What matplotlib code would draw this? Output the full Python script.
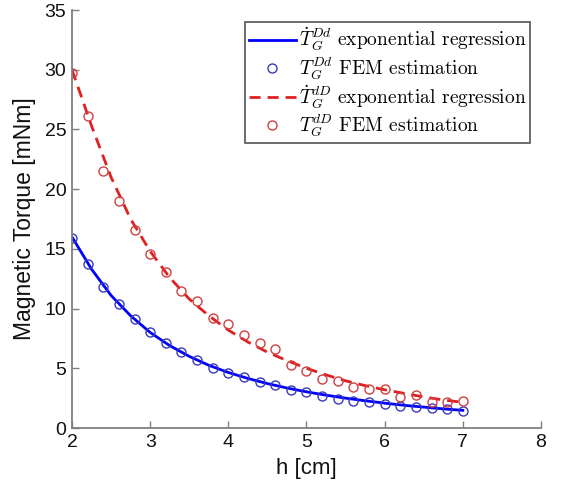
import matplotlib
matplotlib.use("Agg")
import matplotlib.pyplot as plt
from matplotlib.font_manager import FontProperties

# FEM sample positions
h_fem = [2.0, 2.2, 2.4, 2.6, 2.8, 3.0, 3.2, 3.4, 3.6, 3.8, 4.0, 4.2, 4.4,
         4.6, 4.8, 5.0, 5.2, 5.4, 5.6, 5.8, 6.0, 6.2, 6.4, 6.6, 6.8, 7.0]
T_Dd_fem = [15.9, 13.7, 11.8, 10.4, 9.1, 8.05, 7.1, 6.4, 5.7, 5.06, 4.6, 4.3, 3.83,
            3.6, 3.2, 3.0, 2.64, 2.44, 2.28, 2.2, 2.03, 1.81, 1.72, 1.67, 1.58, 1.44]
T_dD_fem = [29.7, 26.1, 21.5, 19.0, 16.6, 14.6, 13.1, 11.5, 10.6, 9.2, 8.7, 7.8, 7.1,
            6.6, 5.3, 4.8, 4.1, 3.9, 3.4, 3.3, 3.3, 2.6, 2.8, 2.2, 2.2, 2.3]

# regression curves
h_reg = [2.0, 2.25, 2.5, 2.75, 3.0, 3.25, 3.5, 3.75, 4.0, 4.25, 4.5, 4.75,
         5.0, 5.25, 5.5, 5.75, 6.0, 6.25, 6.5, 6.75, 7.0]
T_Dd_reg = [16.0, 13.3, 11.1, 9.4, 8.0, 6.9, 6.0, 5.25, 4.65, 4.15, 3.72, 3.35,
            3.03, 2.75, 2.5, 2.28, 2.08, 1.9, 1.75, 1.6, 1.48]
T_dD_reg = [30.0, 25.3, 21.0, 17.5, 14.8, 12.6, 10.8, 9.4, 8.2, 7.2, 6.35, 5.65,
            5.0, 4.45, 3.95, 3.55, 3.2, 2.9, 2.6, 2.35, 2.15]

x_ticks = [2, 3, 4, 5, 6, 7, 8]
y_ticks = [0, 5, 10, 15, 20, 25, 30, 35]

labels = [r"$\dot{T}_G^{Dd}$ exponential regression",
          r"$T_G^{Dd}$ FEM estimation",
          r"$\dot{T}_G^{dD}$ exponential regression",
          r"$T_G^{dD}$ FEM estimation"]

plt.rcParams['mathtext.fontset'] = 'cm'
plt.rcParams['font.family'] = ['Liberation Sans', 'DejaVu Sans']

fig = plt.figure(figsize=(5.62, 4.84), dpi=100)
ax = fig.add_axes([0.1281, 0.1157, 0.8345, 0.8636])

ax.plot(h_reg, T_Dd_reg, '-', color='#0000ff', lw=2.0, label=labels[0])
ax.plot(h_fem, T_Dd_fem, 'o', mfc='none', mec='#3a3ab8', ms=6.5, mew=1.0, label=labels[1])
ax.plot(h_reg, T_dD_reg, '--', color='#e02020', lw=2.0, dashes=(4, 2.5), label=labels[2])
ax.plot(h_fem, T_dD_fem, 'o', mfc='none', mec='#d04040', ms=6.5, mew=1.0, label=labels[3])

ax.set_xlim(2, 8)
ax.set_ylim(0, 35)
ax.set_xticks(x_ticks)
ax.set_yticks(y_ticks)

for s in ['top', 'right']:
    ax.spines[s].set_visible(False)
for s in ['left', 'bottom']:
    ax.spines[s].set_color('#808080')
    ax.spines[s].set_linewidth(1.3)
ax.tick_params(direction='in', length=5, width=1.0, color='#808080',
               labelsize=14, labelcolor='#111111', pad=4)

ax.set_xlabel('h [cm]', fontsize=16, color='#111111', labelpad=5)
ax.set_ylabel('Magnetic Torque [mNm]', fontsize=16.5, color='#111111', labelpad=6)

leg = ax.legend(loc='upper right', bbox_to_anchor=(0.9765, 0.9713), borderaxespad=0,
                prop=FontProperties(family='cmr10', size=14), fancybox=False,
                edgecolor='#606060', framealpha=1, handlelength=2.4, handletextpad=0.15,
                labelspacing=0.08, borderpad=0.2)
leg.get_frame().set_linewidth(1.3)

fig.savefig('out.png', dpi=100)
